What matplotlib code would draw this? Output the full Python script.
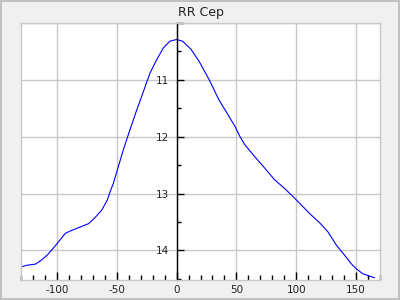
import matplotlib
matplotlib.use("Agg")
import matplotlib.pyplot as plt
from matplotlib.ticker import MultipleLocator, FuncFormatter
from matplotlib.lines import Line2D

plt.rcParams["axes.unicode_minus"] = False

title = "RR Cep"
phase = [-130, -125, -117.8, -113.6, -108, -101.4, -93, -89, -82, -73.6, -68, -62.5,
         -57.8, -55.6, -52.8, -50, -44.5, -39, -33.3, -27.8, -22.2, -16.7, -11.1, -5.6,
         0, 5, 12, 19, 27.3, 35.6, 40.3, 44, 48.6, 52.8, 57, 65.3, 73.6, 82, 90.3,
         98.6, 107, 111.1, 119.4, 126.4, 133.3, 140.3, 145.8, 150, 155.6, 161, 165.3]
mag = [14.29, 14.26, 14.24, 14.18, 14.08, 13.92, 13.70, 13.66, 13.60, 13.53, 13.42, 13.29,
       13.11, 12.97, 12.82, 12.62, 12.23, 11.88, 11.53, 11.21, 10.88, 10.65, 10.44, 10.32,
       10.29, 10.32, 10.46, 10.68, 11.0, 11.36, 11.52, 11.65, 11.81, 11.99, 12.14, 12.35, 12.55, 12.76, 12.91,
       13.08, 13.26, 13.35, 13.51, 13.67, 13.90, 14.08, 14.23, 14.32, 14.41, 14.45, 14.48]

fig = plt.figure(figsize=(4, 3), dpi=100)
fig.patch.set_facecolor("#f0f0f0")
fig.patch.set_edgecolor("#c0c0c0")
fig.patch.set_linewidth(1.5)

ax = fig.add_axes([21/400, 20/300, 359/400, 257/300])
ax.set_facecolor("white")
ax.plot(phase, mag, color="blue", lw=0.8)
ax.set_xlim(-130, 170)
ax.set_ylim(14.52, 10.0)

gc = "#c8c8c8"
for s in ["top", "right", "bottom"]:
    ax.spines[s].set_color(gc)
    ax.spines[s].set_linewidth(1)
ax.spines["left"].set_position(("data", 0))
ax.spines["left"].set_color("black")
ax.spines["left"].set_linewidth(1)
ax.add_line(Line2D([0, 0], [0, 1], transform=ax.transAxes, color=gc, lw=1, clip_on=False))

ax.xaxis.set_major_locator(MultipleLocator(50))
ax.xaxis.set_minor_locator(MultipleLocator(10))
ax.yaxis.set_major_locator(MultipleLocator(1))
ax.yaxis.set_minor_locator(MultipleLocator(0.5))
ax.yaxis.set_major_formatter(FuncFormatter(lambda v, p: "" if abs(v - 10) < 1e-6 else f"{v:g}"))
ax.grid(True, which="major", color=gc, lw=1)
ax.set_axisbelow(True)

ax.tick_params(axis="x", which="major", direction="in", length=6, width=1, color="black",
               labelsize=7.5, pad=3.5, labelcolor="#222222")
ax.tick_params(axis="x", which="minor", direction="in", length=3.5, width=1, color="black")
ax.tick_params(axis="y", which="major", direction="in", length=5, width=1, color="black",
               labelsize=7.5, pad=5.5, labelcolor="#222222")
ax.tick_params(axis="y", which="minor", direction="in", length=3, width=1, color="black")

ax.set_title(title, fontsize=9, color="#222222", pad=5)

fig.savefig("out.png", dpi=100, facecolor=fig.get_facecolor(), edgecolor=fig.get_edgecolor())
